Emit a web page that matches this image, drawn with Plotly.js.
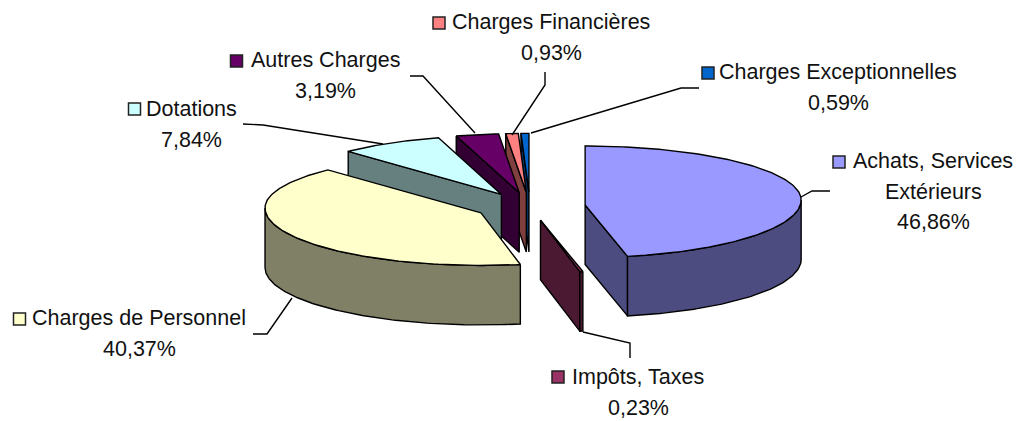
<!DOCTYPE html>
<html>
<head>
<meta charset="utf-8">
<script src="https://cdn.plot.ly/plotly-3.0.1.min.js"></script>
<style>html,body{margin:0;padding:0;background:#fff}#c{width:1021px;height:421px}</style>
</head>
<body>
<div id="c"></div>
<script>
// --- data ---
var categories = ["Achats, Services|Extérieurs", "Impôts, Taxes", "Charges de Personnel", "Dotations", "Autres Charges", "Charges Financières", "Charges Exceptionnelles"];
var values = [46.86, 0.23, 40.37, 7.84, 3.19, 0.93, 0.59];

// --- styles ---
var topColors  = ["#9999FF", "#993366", "#FFFFCC", "#CCFFFF", "#660066", "#FF8080", "#0066CC"];
var wallColors = ["#4C4C80", "#4C1933", "#808066", "#668080", "#330033", "#804040", "#003366"];
var paintOrder = [6, 5, 4, 3, 2, 0, 1];

// --- 3D projection of the pie on the page (pixel-like axes) ---
var geo = {cx: 530, cy: 206.4, ex: 55.4, ey: 14, rx: 216, ryBack: 54, ryFront: 57.5, lift: 5, depth: 59.5};
var LW = 1.4;

// --- label placement, same order as categories ---
var keyPos   = [[839,162],[558,377],[19.5,319],[134.5,109],[236.5,61],[439,23],[708,73]];
var textPos  = [[933,161],[638,377],[139,318],[191,109],[325,60],[551,22],[838,72]];
var lineStep = 30.5;
var leaders = [
  [[801,197],[812,191],[830,191]],
  [[583,332],[630,343],[630,358]],
  [[292,298],[267,334],[253,334]],
  [[383,144],[263,125],[243,124]],
  [[475,133],[423,76],[410,76]],
  [[512,135],[545,85],[545,72]],
  [[531,133],[681,88],[699,88]]
];

var total = values.reduce(function(a,b){return a+b;},0);
var D2R = Math.PI/180, traces = [], annotations = [];
var slices = [], acc = 0;
values.forEach(function(v){
  var a0 = acc/total*360; acc += v; var a1 = acc/total*360;
  var mid = (a0+a1)/2*D2R;
  slices.push({a0:a0, a1:a1,
    ax: geo.cx + geo.ex*Math.sin(mid),
    ay: geo.cy - geo.ey*Math.cos(mid)});
});
function rim(s, deg){
  var t = deg*D2R, c = Math.cos(t);
  return [s.ax + geo.rx*Math.sin(t), s.ay - geo.lift - (c>0?geo.ryBack:geo.ryFront)*c];
}
function arc(s, d0, d1){
  var pts = [], n = Math.max(1, Math.ceil(Math.abs(d1-d0)));
  for (var i=0;i<=n;i++) pts.push(rim(s, d0+(d1-d0)*i/n));
  return pts;
}
function poly(pts, fill){
  traces.push({type:"scatter", mode:"lines", hoverinfo:"skip", showlegend:false,
    x: pts.map(function(p){return p[0];}), y: pts.map(function(p){return p[1];}),
    fill: fill ? "toself" : "none", fillcolor: fill || undefined,
    line:{color:"#000", width:LW, shape:"linear"}});
}
function down(p){ return [p[0], p[1]+geo.depth]; }
function radialWall(s, deg, col){
  var r = rim(s,deg), a=[s.ax,s.ay];
  poly([a,r,down(r),down(a),a], col);
}
paintOrder.forEach(function(i){
  var s = slices[i], wall = wallColors[i];
  // a cut face shows only when it turns toward the viewer
  if (s.a0 > 180) radialWall(s, s.a0, wall);
  if (s.a1 < 180) radialWall(s, s.a1, wall);
  var f0 = Math.max(s.a0,90), f1 = Math.min(s.a1,270);
  if (f1>f0){
    var a = arc(s,f0,f1);
    poly(a.concat(a.slice().reverse().map(down)).concat([a[0]]), wall);
  }
  poly([[s.ax,s.ay]].concat(arc(s,s.a0,s.a1)).concat([[s.ax,s.ay]]), topColors[i]);
});

// leader lines
leaders.forEach(function(l){ poly(l, null); });

// colour keys
traces.push({type:"scatter", mode:"markers", hoverinfo:"skip", showlegend:false,
  x: keyPos.map(function(p){return p[0];}), y: keyPos.map(function(p){return p[1];}),
  marker:{symbol:"square", size:12, color:topColors, line:{color:"#222", width:1.5}}});

// labels
categories.forEach(function(name,i){
  var lines = name.split("|").concat([values[i].toFixed(2).replace(".",",")+"%"]);
  lines.forEach(function(t,k){
    annotations.push({x:textPos[i][0], y:textPos[i][1]+k*lineStep, xref:"x", yref:"y",
      text:t, showarrow:false, xanchor:"center", yanchor:"middle",
      font:{family:"Liberation Sans, Arial, sans-serif", size:21.5, color:"#111"}});
  });
});

Plotly.newPlot("c", traces, {
  width:1021, height:421, margin:{l:0,r:0,t:0,b:0},
  paper_bgcolor:"#fff", plot_bgcolor:"#fff", showlegend:false,
  xaxis:{range:[0,1021], visible:false},
  yaxis:{range:[421,0], visible:false},
  annotations:annotations
}, {displayModeBar:false, staticPlot:true});
</script>
</body>
</html>
